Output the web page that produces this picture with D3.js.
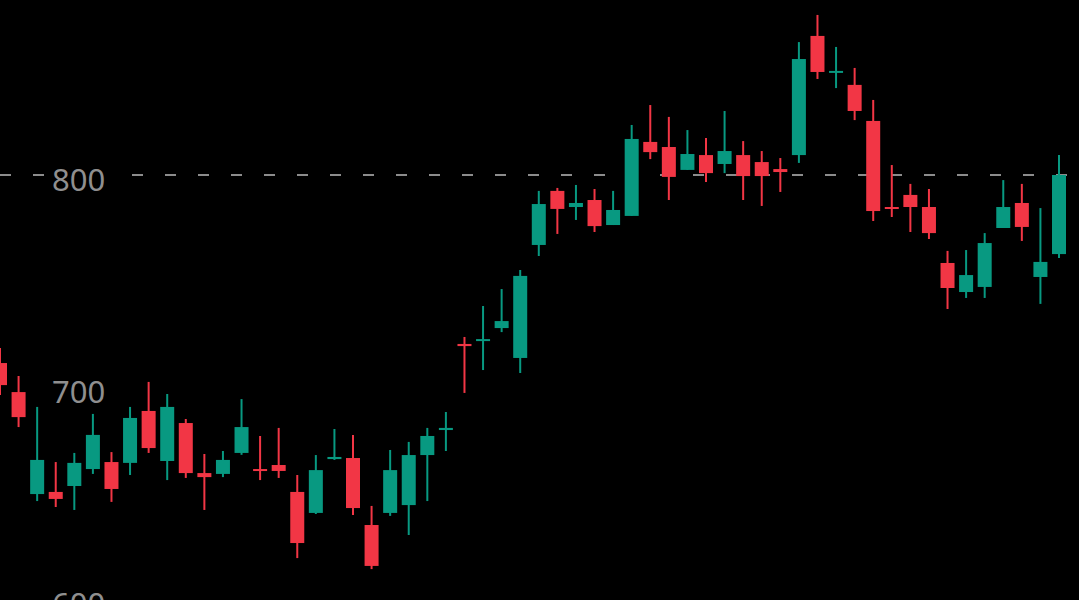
<!DOCTYPE html>
<html><head><meta charset="utf-8">
<script src="https://cdn.jsdelivr.net/npm/d3@7"></script>
<style>html,body{margin:0;background:#000;overflow:hidden}</style>
</head><body>
<svg id="c" width="1079" height="600"></svg>
<script>
const opens  = [711.3,697.6,649.5,650.5,653.3,661.3,664.6,664.2,688.7,665.1,683.0,659.4,659.0,668.9,661.3,663.2,650.5,640.6,666.0,666.5,634.9,640.6,644.3,667.9,679.7,720.3,722.2,727.8,713.7,767.0,792.5,784.9,788.2,776.4,780.7,815.6,813.2,802.4,809.4,805.2,809.4,806.1,802.8,809.4,865.6,848.6,842.5,825.5,784.9,790.6,784.9,758.5,744.8,747.2,775.0,786.8,751.9,762.7];
const closes = [700.9,685.8,665.6,647.2,664.2,677.4,651.9,685.4,671.2,690.6,659.4,657.5,665.6,681.1,660.4,660.4,626.4,660.8,667.0,642.9,615.6,660.8,667.9,676.9,680.7,719.3,722.6,731.1,752.4,786.3,784.0,786.8,775.9,783.5,817.0,810.8,799.1,809.9,800.9,811.3,799.5,799.5,801.4,854.7,848.6,849.1,830.2,783.0,784.4,784.9,772.6,746.7,752.8,767.9,784.9,775.5,759.0,800.0];
const highs  = [718.4,705.2,690.6,664.6,668.9,687.3,669.3,690.6,702.4,696.7,684.9,668.4,669.8,694.3,676.9,680.7,658.5,667.9,680.2,677.4,643.9,670.3,674.1,680.7,688.2,723.6,738.2,746.2,755.2,792.5,793.9,795.3,793.4,792.5,823.6,833.0,827.4,821.2,817.5,830.2,816.0,811.3,808.0,862.7,875.5,860.4,850.5,835.4,804.7,795.8,793.4,764.2,764.6,772.6,797.6,795.8,784.4,809.4];
const lows   = [696.2,681.1,646.2,643.4,642.0,659.0,645.8,658.5,668.9,656.1,657.1,642.0,657.5,668.0,656.1,657.1,619.3,640.1,665.6,639.6,614.1,639.2,630.2,646.2,669.8,697.2,708.0,725.9,706.6,761.8,772.2,778.8,773.1,776.4,780.7,807.5,788.2,802.4,796.7,800.9,788.2,785.4,792.0,805.7,845.3,841.0,825.9,778.3,780.2,773.1,769.8,736.8,742.0,742.0,775.0,768.9,739.2,760.8];
const tickLabels = [800, 700, 600];
const dashedLevel = 800;

const svg = d3.select("#c");
const x = d3.scaleLinear().domain([0, opens.length - 1]).range([0, 1059]);
const y = d3.scaleLinear().domain([800, 700]).range([175, 387]);
const up = "#089981", down = "#f23645";
const data = opens.map((o, i) => ({i, o, c: closes[i], h: highs[i], l: lows[i]}));

svg.append("line").attr("x1", 0).attr("x2", 1079)
  .attr("y1", y(dashedLevel)).attr("y2", y(dashedLevel))
  .attr("stroke", "#8c8c8c").attr("stroke-width", 2).attr("stroke-dasharray", "11,22");

const g = svg.append("g");
const cs = g.selectAll("g").data(data).join("g");
cs.append("line").attr("x1", d => x(d.i)).attr("x2", d => x(d.i))
  .attr("y1", d => y(d.h)).attr("y2", d => y(d.l))
  .attr("stroke", d => d.c >= d.o ? up : down).attr("stroke-width", 2);
cs.append("rect").attr("x", d => x(d.i) - 7).attr("width", 14)
  .attr("y", d => y(Math.max(d.o, d.c)))
  .attr("height", d => Math.max(2, Math.abs(y(d.o) - y(d.c))))
  .attr("fill", d => d.c >= d.o ? up : down);

const lab = svg.append("g");
tickLabels.forEach(v => {
  lab.append("rect").attr("x", 44).attr("y", y(v) - 13).attr("width", 76).attr("height", 36).attr("fill", "#000");
  lab.append("text").attr("x", 52).attr("y", y(v) + 16)
    .attr("font-family", "Noto Sans, sans-serif").attr("font-size", 31)
    .attr("fill", "#8f8f8f").text(v);
});
</script>
</body></html>
